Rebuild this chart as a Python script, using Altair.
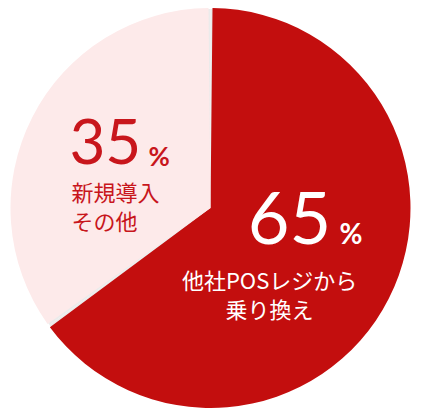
import altair as alt
import pandas as pd

categories = ["他社POSレジから乗り換え", "新規導入その他"]
values = [65, 35]
line1 = ["他社POSレジから", "新規導入"]
line2 = ["乗り換え", "その他"]

df = pd.DataFrame({
    "category": categories,
    "value": values,
    "line1": line1,
    "line2": line2,
    "idx": list(range(len(categories))),
})

RED = "#c30e0e"
PINK = "#fdeaea"
PINK_TEXT = "#c8161c"
GAP = "#ebebeb"
NUM_FONT = "Lato"
JP_FONT = "Noto Sans CJK JP"

base = alt.Chart(df).transform_window(
    end="sum(value)", sort=[alt.SortField("idx")], frame=[None, 0]
).transform_calculate(
    start="datum.end - datum.value",
    mid="datum.end - datum.value / 2",
)

theta_scale = alt.Scale(domain=[0, 100])

gap = base.mark_arc(radius=199, color=GAP).encode(
    theta=alt.Theta("start:Q", scale=theta_scale, stack=False),
    theta2="end:Q",
)

slices = base.mark_arc(radius=200, padAngle=0.02).encode(
    theta=alt.Theta("start:Q", scale=theta_scale, stack=False),
    theta2="end:Q",
    color=alt.Color("category:N", scale=alt.Scale(domain=categories, range=[RED, PINK]), legend=None),
)

# per-slice text lines: (text encoding, font, size, weight, align, baseline, dx, dy)
specs = {
    0: dict(color="white", lines=[
        (alt.Text("value:Q"), NUM_FONT, 72, 400, "center", "alphabetic", -10, -9),
        (alt.value("%"), NUM_FONT, 28, 700, "left", "alphabetic", 40, -9),
        (alt.Text("line1:N"), JP_FONT, 22, 400, "center", "middle", -30, 29),
        (alt.Text("line2:N"), JP_FONT, 22, 400, "center", "middle", -30, 58),
    ]),
    1: dict(color=PINK_TEXT, lines=[
        (alt.Text("value:Q"), NUM_FONT, 62, 400, "left", "alphabetic", -52, 1),
        (alt.value("%"), NUM_FONT, 26, 700, "left", "alphabetic", 27, 3),
        (alt.Text("line1:N"), JP_FONT, 22, 400, "left", "middle", -50, 31),
        (alt.Text("line2:N"), JP_FONT, 22, 400, "left", "middle", -50, 60),
    ]),
}

layers = [gap, slices]
for i, spec in specs.items():
    for text_enc, font, size, weight, align, baseline, dx, dy in spec["lines"]:
        layers.append(
            base.transform_filter(alt.datum.idx == i).mark_text(
                font=font, fontSize=size, fontWeight=weight, align=align,
                baseline=baseline, dx=dx, dy=dy, color=spec["color"],
            ).encode(
                theta=alt.Theta("mid:Q", scale=theta_scale, stack=False),
                radius=alt.value(100),
                text=text_enc,
            )
        )

chart = alt.layer(*layers).properties(
    width=405, height=400,
    autosize=alt.AutoSizeParams(type="fit", contains="padding"),
    padding=0,
).configure_view(strokeWidth=0)

chart.save("out.html", embed_options={"renderer": "svg", "actions": False})
